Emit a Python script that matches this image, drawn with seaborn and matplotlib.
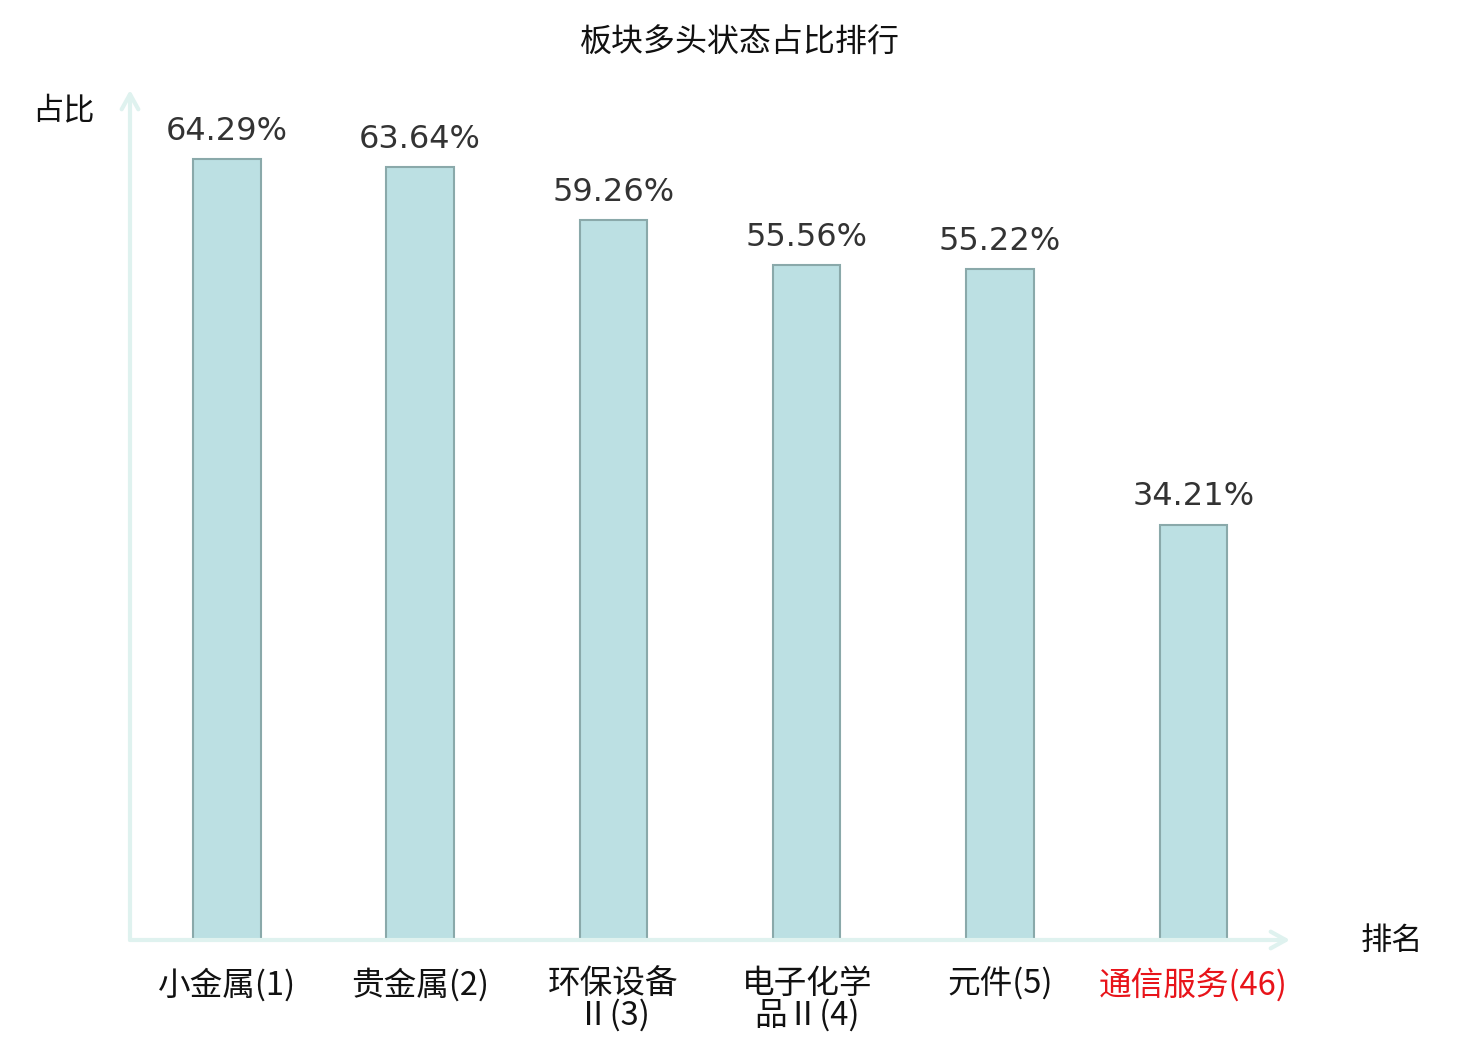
import matplotlib
matplotlib.use("Agg")
import matplotlib.pyplot as plt
import seaborn as sns
import pandas as pd

# chart data
sectors = ['小金属(1)', '贵金属(2)', '环保设备\nⅡ(3)', '电子化学\n品Ⅱ(4)', '元件(5)', '通信服务(46)']
ratios = [64.29, 63.64, 59.26, 55.56, 55.22, 34.21]
label_colors = ['#111111', '#111111', '#111111', '#111111', '#111111', '#e8141a']

df = pd.DataFrame({'sector': sectors, 'ratio': ratios})

sns.set_theme(style='white')
plt.rcParams['font.family'] = ['Noto Sans CJK SC', 'DejaVu Sans']

fig = plt.figure(figsize=(14.8, 10.4), dpi=100)
ax = fig.add_axes([130 / 1480, 100 / 1040, 1160 / 1480, 850 / 1040])

sns.barplot(data=df, x='sector', y='ratio', order=sectors, width=0.35,
            color='#bce0e3', edgecolor='#8aa9aa', linewidth=1.5, saturation=1, ax=ax)

ax.set_xlim(-0.5, 5.5)
ax.set_ylim(0, 70)

# value labels
for i, v in enumerate(ratios):
    ax.annotate(f'{v:.2f}%', (i, v), xytext=(0, 9), textcoords='offset points',
                ha='center', va='bottom', fontsize=23, color='#333333',
                family='DejaVu Sans')

# axes with arrows
for s in ax.spines.values():
    s.set_visible(False)
axis_color = '#dff2ef'
ax.annotate('', xy=(0, 1.0), xytext=(0, 0), xycoords='axes fraction',
            arrowprops=dict(arrowstyle='->,head_length=0.9,head_width=0.5',
                            color=axis_color, lw=3, shrinkA=0, shrinkB=0))
ax.annotate('', xy=(1.0, 0), xytext=(0, 0), xycoords='axes fraction',
            arrowprops=dict(arrowstyle='->,head_length=0.9,head_width=0.5',
                            color=axis_color, lw=3, shrinkA=0, shrinkB=0))

ax.set_yticks([])
ax.set_xticks(range(len(sectors)))
ax.set_xticklabels(sectors, fontsize=23.5, linespacing=0.95, va='top')
for lbl, c in zip(ax.get_xticklabels(), label_colors):
    lbl.set_color(c)
ax.tick_params(axis='x', length=0, pad=20)
ax.set_xlabel('')
ax.set_ylabel('')

fig.text(63 / 1480, 1 - 110 / 1040, '占比', ha='center', va='center', fontsize=22.5, color='#111111')
fig.text(1392 / 1480, 1 - 941 / 1040, '排名', ha='center', va='center', fontsize=22.5, color='#111111')
fig.text(740 / 1480, 1 - 43 / 1040, '板块多头状态占比排行', ha='center', va='center',
         fontsize=23, color='#111111')

fig.savefig('out.png', dpi=100)
